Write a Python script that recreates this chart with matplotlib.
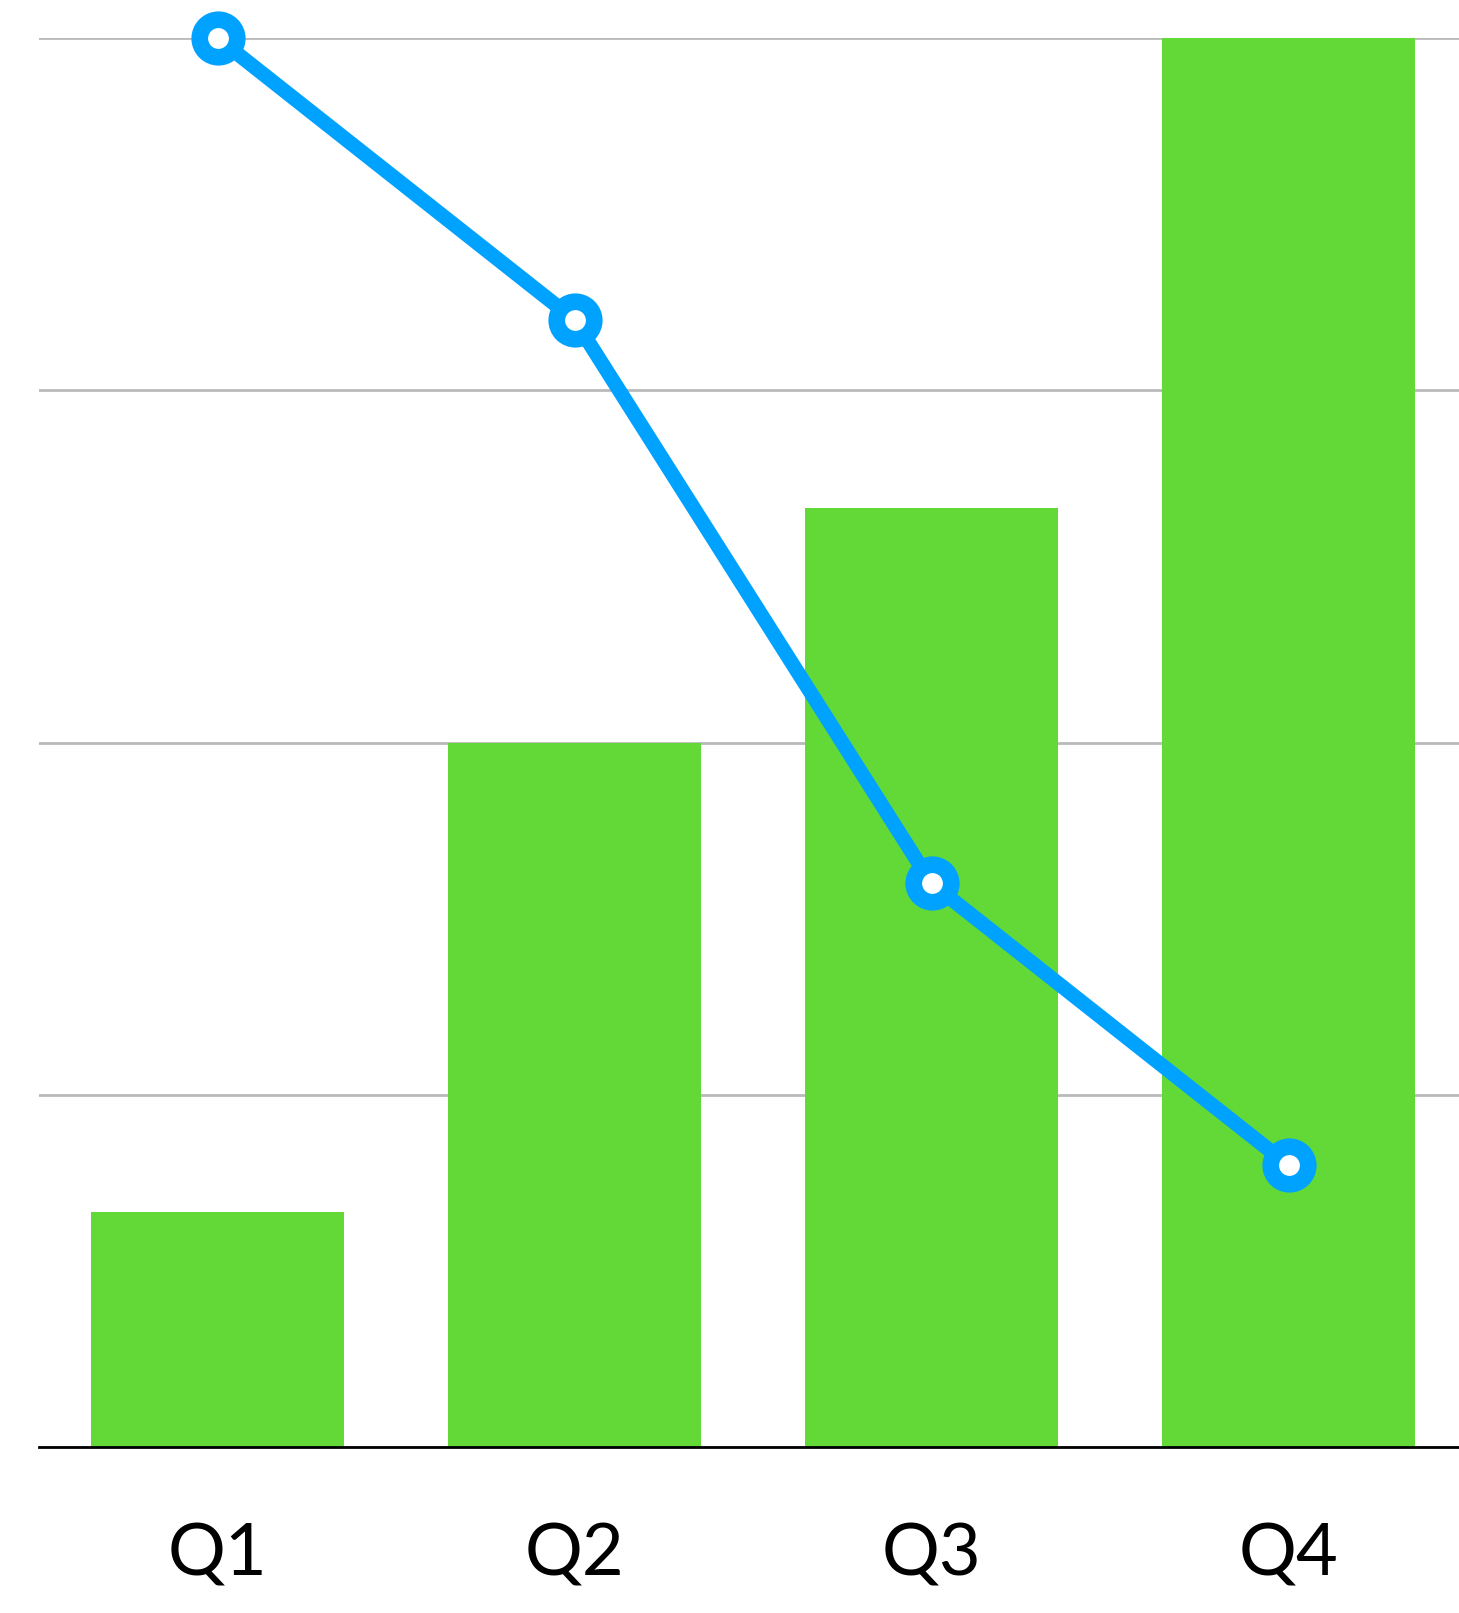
import matplotlib.pyplot as plt

# chart data
quarters = ['Q1', 'Q2', 'Q3', 'Q4']
bar_values = [10, 30, 40, 60]
line_values = [60, 48, 24, 12]
grid_ticks = [0, 15, 30, 45, 60]

plt.rcParams['font.family'] = ['Lato', 'DejaVu Sans']

fig = plt.figure(figsize=(14.59, 16.13), dpi=100)
ax = fig.add_axes([39/1459, 166/1613, 1428/1459, 1409/1613])

x = range(len(quarters))
ax.bar(x, bar_values, width=0.71, color='#62d937', zorder=2)
ax.plot(x, line_values, color='#00a2ff', lw=10.5, marker='o', ms=27,
        mfc='white', mec='#00a2ff', mew=12, zorder=3, clip_on=False,
        solid_capstyle='butt')

ax.set_xlim(-0.5, 3.5)
ax.set_ylim(0, 60)
ax.set_yticks(grid_ticks)
ax.set_yticklabels([])
ax.tick_params(axis='y', length=0)
ax.grid(axis='y', color='#bababa', lw=2, zorder=0)

ax.set_xticks(list(x))
ax.set_xticklabels(quarters, fontsize=52, color='black')
ax.tick_params(axis='x', length=0, pad=54)

for s in ['top', 'right', 'left']:
    ax.spines[s].set_visible(False)
ax.spines['bottom'].set_color('black')
ax.spines['bottom'].set_linewidth(2)
ax.spines['bottom'].set_zorder(4)

fig.savefig('out.png', dpi=100)
